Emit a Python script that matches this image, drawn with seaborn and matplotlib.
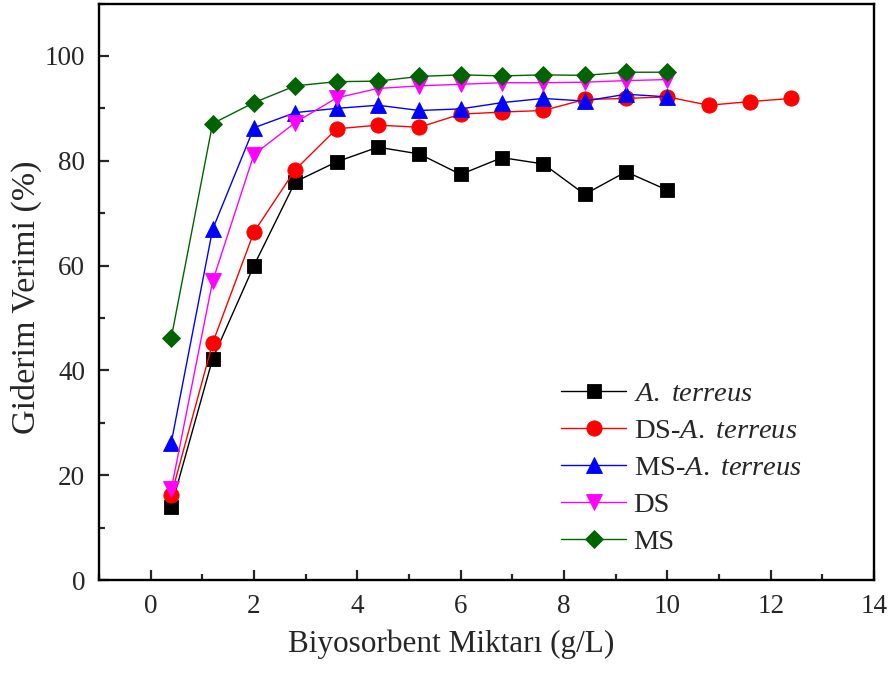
import matplotlib
matplotlib.use("Agg")
import matplotlib.pyplot as plt
from matplotlib.ticker import MultipleLocator
import numpy as np
import pandas as pd
import seaborn as sns

# Biosorbent dose (g/L)
dose = [0.4, 1.2, 2.0, 2.8, 3.6, 4.4, 5.2, 6.0, 6.8, 7.6, 8.4, 9.2, 10.0]
dose_ext = dose + [10.8, 11.6, 12.4]

# Removal efficiency (%) for each biosorbent
a_terreus = [14.0, 42.2, 60.0, 76.0, 79.8, 82.6, 81.3, 77.4, 80.6, 79.4, 73.6, 77.9, 74.4]
ds_a_terreus = [16.2, 45.2, 66.4, 78.3, 86.1, 86.8, 86.4, 88.9, 89.3, 89.6, 91.7, 91.9, 92.2,
                90.6, 91.3, 91.9]
ms_a_terreus = [26.2, 66.9, 86.3, 89.2, 90.0, 90.6, 89.6, 89.9, 91.1, 91.9, 91.4, 92.7, 92.2]
ds = [17.3, 57.0, 81.2, 87.3, 92.0, 93.8, 94.3, 94.6, 94.9, 94.9, 95.0, 95.3, 95.5]
ms = [46.2, 87.1, 91.1, 94.3, 95.1, 95.2, 96.1, 96.4, 96.2, 96.4, 96.3, 96.9, 96.9]

labels = [r"$\mathit{A.\ terreus}$", r"DS-$\mathit{A.\ terreus}$",
          r"MS-$\mathit{A.\ terreus}$", "DS", "MS"]
colors = ["#000000", "#ff0000", "#0000ff", "#ff00ff", "#006400"]
markers = ["s", "o", "^", "v", "D"]
marker_sizes = [10, 11, 11, 11, 9.5]

sns.set_theme(style="ticks")
plt.rcParams["font.family"] = ["Liberation Serif", "DejaVu Serif"]
plt.rcParams["mathtext.fontset"] = "custom"
plt.rcParams["mathtext.rm"] = "Liberation Serif"
plt.rcParams["mathtext.it"] = "Liberation Serif:italic"

series = [(dose, a_terreus), (dose_ext, ds_a_terreus), (dose, ms_a_terreus),
          (dose, ds), (dose, ms)]
frames = []
for lab, (xs, ys) in zip(labels, series):
    frames.append(pd.DataFrame({"dose": xs, "eff": ys, "name": lab}))
df = pd.concat(frames, ignore_index=True)

fig = plt.figure(figsize=(8.91, 6.75), dpi=100)
ax = fig.add_axes([0.111, 0.1407, 0.870, 0.854])

for lab, col, mk, ms_ in zip(labels, colors, markers, marker_sizes):
    sub = df[df["name"] == lab]
    sns.lineplot(data=sub, x="dose", y="eff", ax=ax, color=col, marker=mk,
                 markersize=ms_, markeredgewidth=0.6, markeredgecolor=col,
                 linewidth=1.0, label=lab, estimator=None, sort=False)

ax.set_xlim(-1, 14)
ax.set_ylim(0, 110)
ax.xaxis.set_major_locator(MultipleLocator(2))
ax.xaxis.set_minor_locator(MultipleLocator(1))
ax.yaxis.set_major_locator(MultipleLocator(20))
ax.yaxis.set_minor_locator(MultipleLocator(10))
ax.tick_params(which="major", direction="in", length=7, width=1.6, labelsize=19.5, pad=10)
ax.tick_params(which="minor", direction="in", length=4.3, width=1.6)
for sp in ax.spines.values():
    sp.set_linewidth(1.7)
    sp.set_color("black")

ax.set_xlabel("Biyosorbent Miktarı (g/L)", fontsize=22.5)
ax.set_ylabel("Giderim Verimi (%)", fontsize=24.5)
ax.xaxis.set_label_coords(0.455, -0.085)
ax.yaxis.set_label_coords(-0.073, 0.49)

leg = ax.legend(loc="upper left", bbox_to_anchor=(0.596, 0.345), frameon=False,
                fontsize=20.5, handlelength=2.3, handletextpad=0.25,
                labelspacing=0.39, borderaxespad=0, borderpad=0)

fig.savefig("out.png", dpi=100)
